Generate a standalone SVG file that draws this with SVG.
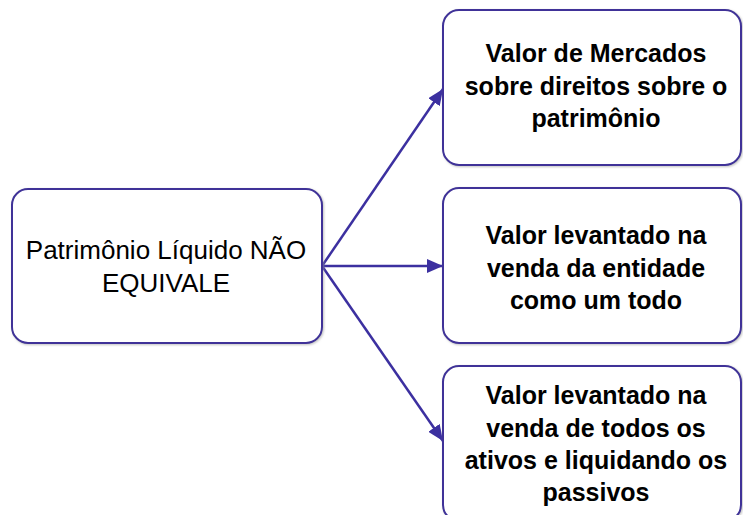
<svg xmlns="http://www.w3.org/2000/svg" width="743" height="515" viewBox="0 0 743 515">
<style>
.box{fill:#fff;stroke:#3f3398;stroke-width:2}
.t{font-family:"Liberation Sans",Arial,sans-serif;fill:#000;text-anchor:middle}
.r{font-size:26px}
.b{font-size:25px;font-weight:bold}
.c{stroke:#3c30a0;stroke-width:2.5;fill:none}
</style>
<defs>
<marker id="ah" markerWidth="16" markerHeight="14" refX="16" refY="7" orient="auto" markerUnits="userSpaceOnUse" viewBox="0 0 16 14">
<path d="M0,0 L16,7 L0,14 z" fill="#3c30a0"/>
</marker>
<filter id="sh" x="-5%" y="-5%" width="110%" height="110%">
<feDropShadow dx="1" dy="1" stdDeviation="1" flood-color="#999" flood-opacity="0.6"/>
</filter>
</defs>
<g id="connectors">
<line class="c" x1="322" y1="266" x2="443" y2="89" marker-end="url(#ah)"/>
<line class="c" x1="322" y1="266" x2="443" y2="266" marker-end="url(#ah)"/>
<line class="c" x1="322" y1="266" x2="443" y2="441" marker-end="url(#ah)"/>
</g>
<g id="source">
<rect class="box" filter="url(#sh)" x="12" y="189" width="310" height="154" rx="16"/>
<text class="t r" x="166" y="259">Patrimônio Líquido NÃO</text>
<text class="t r" x="166" y="292">EQUIVALE</text>
</g>
<g id="n1">
<rect class="box" filter="url(#sh)" x="443" y="10" width="298" height="155" rx="16"/>
<text class="t b" x="596" y="62">Valor de Mercados</text>
<text class="t b" x="596" y="95">sobre direitos sobre o</text>
<text class="t b" x="596" y="127">patrimônio</text>
</g>
<g id="n2">
<rect class="box" filter="url(#sh)" x="443" y="188" width="298" height="155" rx="16"/>
<text class="t b" x="596" y="244">Valor levantado na</text>
<text class="t b" x="596" y="277">venda da entidade</text>
<text class="t b" x="596" y="309">como um todo</text>
</g>
<g id="n3">
<rect class="box" filter="url(#sh)" x="443" y="366" width="298" height="155" rx="16"/>
<text class="t b" x="596" y="404">Valor levantado na</text>
<text class="t b" x="596" y="437">venda de todos os</text>
<text class="t b" x="596" y="469">ativos e liquidando os</text>
<text class="t b" x="596" y="501">passivos</text>
</g>
</svg>
